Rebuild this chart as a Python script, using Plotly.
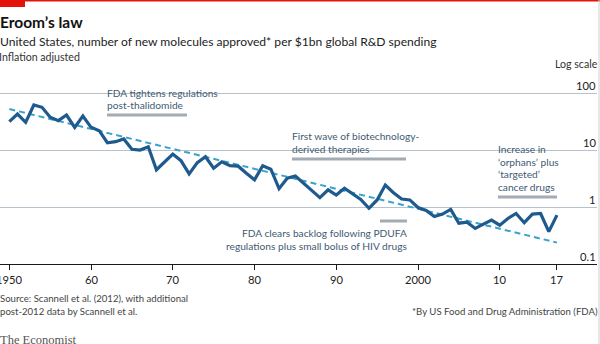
import numpy as np
import plotly.graph_objects as go

years = list(range(1950, 2018))
molecules_per_bn = [
    31.4, 42.8, 30.6, 61.6, 56.1, 37.5, 32.7, 41.1, 25.0, 39.5,
    25.0, 21.8, 13.4, 14.0, 15.6, 10.3, 10.0, 11.4, 4.5, 6.2,
    8.5, 6.5, 3.8, 6.0, 7.6, 4.8, 6.2, 5.3, 5.2, 3.9,
    3.0, 5.3, 4.6, 2.1, 3.2, 3.5, 2.6, 2.0, 1.46, 2.0,
    1.62, 2.13, 1.69, 1.36, 0.95, 1.33, 2.43, 1.78, 1.38, 1.33,
    0.98, 0.87, 0.68, 0.75, 0.91, 0.52, 0.54, 0.42, 0.50, 0.59,
    0.48, 0.63, 0.77, 0.53, 0.75, 0.77, 0.37, 0.72,
]
trend_years = [1950, 2017]
trend_values = [52.4, 0.237]

x_tickvals = [1950, 1960, 1970, 1980, 1990, 2000, 2010, 2017]
x_ticktext = ["1950", "60", "70", "80", "90", "2000", "10", "17"]
y_tickvals = [0.1, 1, 10, 100]
y_ticktext = ["0.1", "1", "10", "100"]

W, H = 600, 344
PL, PR, PT, PB = 0, 597, 80, 264   # plot area in pixels


def px(x):
    return (x - PL) / (PR - PL)


def py(y):
    return (PB - y) / (PB - PT)


FONT = "Lato"
TXT = "#222222"
ANN = "#3f5b74"
BAR = "#a4abb3"
GRID = "#b8c2ca"
ASZ = 10.2

fig = go.Figure()
fig.add_trace(go.Scatter(x=trend_years, y=trend_values, mode="lines",
                         line=dict(color="#3aa3c9", width=2, dash="6px,4px"),
                         hoverinfo="skip"))
fig.add_trace(go.Scatter(x=years, y=molecules_per_bn, mode="lines",
                         line=dict(color="#1f5a8e", width=3.2), hoverinfo="skip"))

ann = []


def text(t, x, y, size=12, color=TXT, anchor="left", family=FONT, bold=False):
    if bold:
        t = "<b>" + t + "</b>"
    ann.append(dict(text=t, x=px(x), y=py(y), xref="paper", yref="paper",
                    xanchor=anchor, yanchor="middle", showarrow=False,
                    font=dict(family=family, size=size, color=color), borderpad=0))


# header
text("Eroom’s law", -1, 22, size=15.5, bold=True, color="#111111")
text("United States, number of new molecules approved* per $1bn global R&D spending", -1, 42, size=12.1)
text("Inflation adjusted", -2, 57, size=10.6, color="#333333")
text("Log scale", 599, 64, size=10.6, anchor="right", color="#333333")

# y tick labels
for v, lab in zip(y_tickvals, y_ticktext):
    ann.append(dict(text=lab, x=1.0, y=np.log10(v), xref="paper", yref="y",
                    xanchor="right", yanchor="bottom", showarrow=False, borderpad=0,
                    font=dict(family=FONT, size=11.2, color=TXT)))

# x tick labels, placed on the x scale
for v, lab in zip(x_tickvals, x_ticktext):
    ann.append(dict(text=lab, x=v, y=py(279), xref="x", yref="paper",
                    xanchor="center", yanchor="middle", showarrow=False, borderpad=0,
                    font=dict(family=FONT, size=11.2, color=TXT)))

# event annotations
text("FDA tightens regulations", 106, 93, size=ASZ, color=ANN)
text("post-thalidomide", 106, 105, size=ASZ, color=ANN)
text("First wave of biotechnology-", 291, 136, size=ASZ, color=ANN)
text("derived therapies", 291, 149, size=ASZ, color=ANN)
text("Increase in", 497, 149, size=ASZ, color=ANN)
text("‘orphans’ plus", 497, 161.5, size=ASZ, color=ANN)
text("‘targeted’", 497, 174, size=ASZ, color=ANN)
text("cancer drugs", 497, 186.5, size=ASZ, color=ANN)
text("FDA clears backlog following PDUFA", 408, 233, size=ASZ, color=ANN, anchor="right")
text("regulations plus small bolus of HIV drugs", 408, 246, size=ASZ, color=ANN, anchor="right")

# footer
text("Source: Scannell et al. (2012), with additional", -1, 298, size=9.6, color="#444444")
text("post-2012 data by Scannell et al.", -1, 311, size=9.6, color="#444444")
text("*By US Food and Drug Administration (FDA)", 599, 311, size=9.6, color="#444444", anchor="right")
text("The Economist", -1, 340, size=12.5, color="#555555", family="Liberation Serif")

shapes = []


def bar(x0, x1, y):
    shapes.append(dict(type="line", xref="paper", yref="paper", x0=px(x0), x1=px(x1),
                       y0=py(y), y1=py(y), line=dict(color=BAR, width=3)))


def gap(x0, x1, y):
    shapes.append(dict(type="rect", xref="paper", yref="paper", layer="between",
                       x0=px(x0), x1=px(x1), y0=py(y - 2), y1=py(y + 2),
                       fillcolor="white", line=dict(width=0)))


bar(107, 187, 115)
bar(292, 406, 159)
bar(498, 557, 197)
bar(380, 407, 221)

gap(99, 226, 93)
gap(287, 380, 150)
gap(492, 553, 150)

# red economist tag
shapes.append(dict(type="rect", xref="paper", yref="paper", x0=px(0), x1=px(25),
                   y0=py(0), y1=py(7), fillcolor="#e3120b", line=dict(width=0)))
shapes.append(dict(type="rect", xref="paper", yref="paper", x0=px(0), x1=px(600),
                   y0=py(0), y1=py(1.5), fillcolor="#e3120b", line=dict(width=0)))
shapes.append(dict(type="line", xref="paper", yref="paper", x0=px(599), x1=px(599),
                   y0=py(0), y1=py(344), line=dict(color="#d0d0d0", width=1)))

fig.update_layout(
    width=W, height=H,
    margin=dict(l=PL, r=W - PR, t=PT, b=H - PB, pad=0),
    paper_bgcolor="white", plot_bgcolor="white",
    showlegend=False,
    annotations=ann, shapes=shapes,
    xaxis=dict(range=[1948.86, 2021.9], tickvals=x_tickvals,
               showticklabels=False,
               showgrid=False, zeroline=False, showline=True, linecolor="#1a1a1a",
               linewidth=1.3, ticks="outside", ticklen=5, tickwidth=1, tickcolor="#1a1a1a"),
    yaxis=dict(type="log", range=[-1, 2 + 13 / 57], tickvals=y_tickvals,
               showticklabels=False, showgrid=True, gridcolor=GRID, gridwidth=1,
               zeroline=False, showline=False, ticks=""),
)

fig.write_html("out.html")
